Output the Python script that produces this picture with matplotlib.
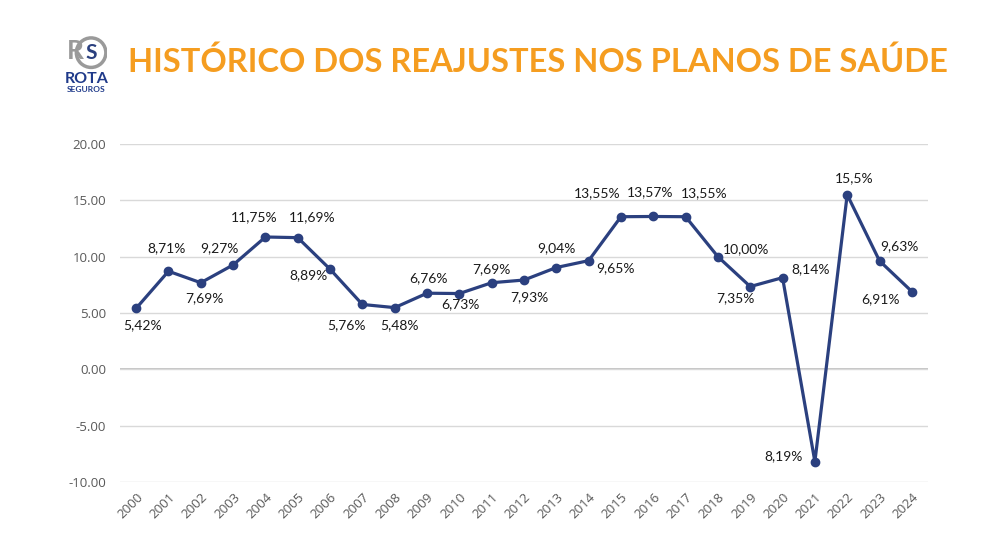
import numpy as np
import matplotlib.pyplot as plt
from matplotlib.patches import Circle

years = [str(y) for y in range(2000, 2025)]
reajuste = [5.42, 8.71, 7.69, 9.27, 11.75, 11.69, 8.89, 5.76, 5.48, 6.76, 6.73,
            7.69, 7.93, 9.04, 9.65, 13.55, 13.57, 13.55, 10.00, 7.35, 8.14,
            -8.19, 15.5, 9.63, 6.91]
rotulos = ["5,42%", "8,71%", "7,69%", "9,27%", "11,75%", "11,69%", "8,89%",
           "5,76%", "5,48%", "6,76%", "6,73%", "7,69%", "7,93%", "9,04%",
           "9,65%", "13,55%", "13,57%", "13,55%", "10,00%", "7,35%", "8,14%",
           "8,19%", "15,5%", "9,63%", "6,91%"]
# label centre offset from its point, in pixels (x right, y down)
desloc = [(6, 17), (-2, -23), (4, 15), (-14, -17), (-11, -20), (14, -21),
          (-22, 6), (-16, 21), (5, 18), (1, -15), (1, 11), (0, -14),
          (5, 17), (0, -19), (27, 8), (-24, -24), (-3, -24), (19, -24),
          (28, -8), (-15, 12), (28, -9), (-31, -5), (7, -17), (20, -15),
          (-31, 8)]

azul = "#2B407F"
laranja = "#F59D20"
cinza = "#595959"

fig = plt.figure(figsize=(10, 5.5), dpi=100)
ax = fig.add_axes([0.12, 0.1236, 0.808, 0.6145])

x = np.arange(len(years))
ax.plot(x, reajuste, color=azul, lw=2.3, marker="o", ms=6, zorder=3)

for xi, v, t, (dx, dy) in zip(x, reajuste, rotulos, desloc):
    ax.annotate(t, (xi, v), xytext=(dx * 0.72, -dy * 0.72),
                textcoords="offset points", ha="center", va="center",
                fontsize=10, color="#1a1a1a", family="Lato")

ax.set_xlim(-0.5, len(years) - 0.5)
ax.set_ylim(-10, 20)
ax.set_yticks(np.arange(-10, 21, 5))
ax.set_yticklabels(["%.2f" % t for t in np.arange(-10, 21, 5)])
ax.set_xticks(x)
ax.set_xticklabels(years, rotation=45, ha="right", rotation_mode="anchor")
ax.tick_params(length=0, colors=cinza, labelsize=9.5)
ax.tick_params(axis="x", pad=6)
ax.tick_params(axis="y", pad=10)
for lbl in ax.get_xticklabels() + ax.get_yticklabels():
    lbl.set_family("Open Sans")
ax.grid(axis="y", color="#d9d9d9", lw=1)
ax.axhline(0, color="#bfbfbf", lw=1.3, zorder=1)
for s in ax.spines.values():
    s.set_visible(False)

# title, scaled to fit the reference width
titulo = fig.text(0.128, 0.887, "HISTÓRICO DOS REAJUSTES NOS PLANOS DE SAÚDE",
                  fontsize=27, fontweight="bold", color=laranja, family="Lato",
                  va="center", ha="left")
r = fig.canvas.get_renderer()
w = titulo.get_window_extent(r).width
titulo.set_fontsize(27 * 820 / w)

# logo
lax = fig.add_axes([0.066, 0.8655, 0.042, 0.0745])
lax.set_xlim(0, 1)
lax.set_ylim(0, 1)
lax.set_aspect("equal")
lax.axis("off")
lax.add_patch(Circle((0.6, 0.52), 0.36, fill=False, ec="#9a9a9a", lw=2.5))
lax.text(0.22, 0.55, "R", fontsize=19, fontweight="bold", color="#9a9a9a",
         ha="center", va="center", family="Lato")
lax.text(0.6, 0.52, "S", fontsize=15, fontweight="bold", color=azul,
         ha="center", va="center", family="Lato")
fig.text(0.0865, 0.856, "ROTA", fontsize=11.5, fontweight="bold",
         color="#1f3a8a", ha="center", va="center", family="Lato")
fig.text(0.0865, 0.837, "SEGUROS", fontsize=6, fontweight="bold",
         color="#1f3a8a", ha="center", va="center", family="Lato")

fig.savefig("out.png", dpi=100, facecolor="white")
